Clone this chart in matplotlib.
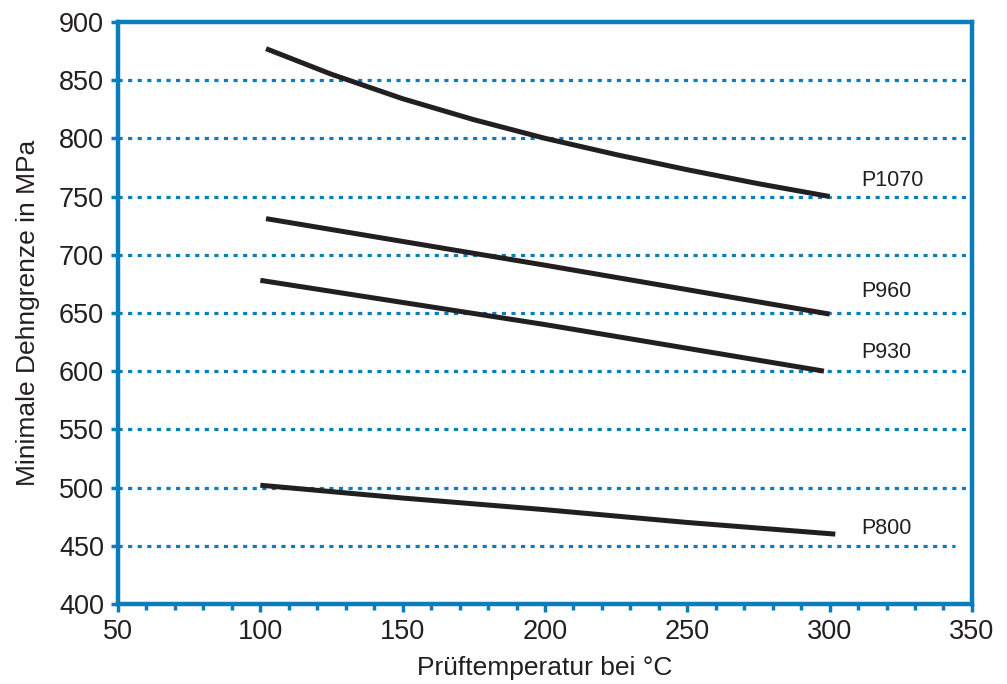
import matplotlib.pyplot as plt
from matplotlib.ticker import MultipleLocator

plt.rcParams['font.family'] = ['Liberation Sans', 'DejaVu Sans']

BLUE = '#0a7dbb'
INK = '#231f20'

# curve data (temperature in degC, yield strength in MPa)
p1070_temp = [102, 125, 150, 175, 200, 225, 250, 275, 300]
p1070_val = [877, 855, 834, 816, 800, 786, 773, 761, 750]
p960_temp = [102, 200, 300]
p960_val = [731, 691, 649]
p930_temp = [100, 200, 298]
p930_val = [678, 640, 600]
p800_temp = [100, 150, 200, 250, 302]
p800_val = [502, 491, 481, 470, 460]

labels = ['P1070', 'P960', 'P930', 'P800']
label_x = 311
label_y = [764, 668, 616, 465]

grid_levels = [450, 500, 550, 600, 650, 700, 750, 800, 850]

fig = plt.figure(figsize=(10.07, 6.84), dpi=100)
ax = fig.add_axes([0.1172, 0.117, 0.848, 0.851])

# dotted horizontal guides, the lowest one stops short of the frame
for level in grid_levels:
    xmax = 344 if level == 450 else 350
    ax.plot([50, xmax], [level, level], color=BLUE, lw=2.3,
            linestyle=(0, (1.3, 1.7)), zorder=1)

series = [(p1070_temp, p1070_val), (p960_temp, p960_val),
          (p930_temp, p930_val), (p800_temp, p800_val)]
for temp, val in series:
    ax.plot(temp, val, color=INK, lw=3.6, solid_capstyle='butt', zorder=3)

for name, ypos in zip(labels, label_y):
    ax.text(label_x, ypos, name, fontsize=15.5, color=INK, va='center',
            ha='left')

ax.set_xlim(50, 350)
ax.set_ylim(400, 900)
ax.xaxis.set_major_locator(MultipleLocator(50))
ax.xaxis.set_minor_locator(MultipleLocator(10))
ax.yaxis.set_major_locator(MultipleLocator(50))

for spine in ax.spines.values():
    spine.set_color(BLUE)
    spine.set_linewidth(3.2)

ax.tick_params(axis='x', which='major', direction='out', length=6, width=2.5,
               color=BLUE, labelsize=19.5, labelcolor=INK, pad=5)
ax.tick_params(axis='x', which='minor', direction='out', length=4, width=2.5,
               color=BLUE)
ax.tick_params(axis='y', which='major', direction='out', length=5, width=2.5,
               color=BLUE, labelsize=19.5, labelcolor=INK, pad=5)

ax.set_xlabel('Prüftemperatur bei °C', fontsize=19, color=INK, labelpad=8)
ax.set_ylabel('Minimale Dehngrenze in MPa', fontsize=19, color=INK,
              labelpad=14)

fig.savefig('out.png', dpi=100)
